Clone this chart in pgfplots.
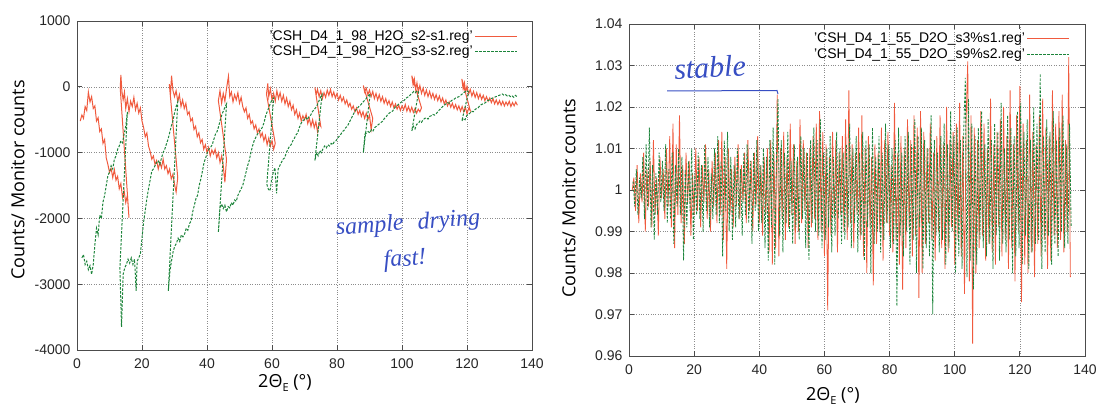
\documentclass[border=0pt]{standalone}
\usepackage{fontspec}
\setmainfont{Liberation Sans}
\newfontfamily\labelfont{Open Sans}
\newfontfamily\handfont{Liberation Serif}
\usepackage{pgfplots}
\pgfplotsset{compat=1.18}
\definecolor{gpred}{RGB}{240,90,62}
\definecolor{gpgreen}{RGB}{28,132,58}
\definecolor{ink}{RGB}{55,78,195}
\begin{document}
\begin{tikzpicture}[x=1pt,y=1pt]
\useasboundingbox (0,0) rectangle (1099,410);
\pgfplotsset{common/.style={
  scale only axis, anchor=south west,
  xmin=0, xmax=140, xtick={0,20,...,140},
  grid=major, major grid style={black!45, dotted, line width=0.6pt},
  axis line style={line width=0.9pt, black!70},
  tick style={black!70, line width=0.8pt}, tick align=inside, major tick length=5pt,
  ticklabel style={font=\fontsize{14}{14}\selectfont, black!85},
  xticklabel style={yshift=-5pt},
  yticklabel style={xshift=-3pt},
  /pgf/number format/assume math mode=true,
  legend cell align=right, legend plot pos=right,
  legend style={draw=none, fill=none, font=\fontsize{14}{14}\selectfont, anchor=north east, inner sep=0pt, row sep=0pt, nodes={inner sep=2pt}},
  label style={font=\labelfont\fontsize{18}{18}\selectfont},
  xlabel={2Θ\raisebox{-0.22em}{\fontsize{11}{11}\selectfont E} (°)},
  ylabel={Counts/ Monitor counts},
}}
\begin{axis}[common,
  at={(77pt,60pt)}, width=455pt, height=329pt,
  ymin=-4000, ymax=1000, ytick={-4000,-3000,-2000,-1000,0,1000},
  yticklabels={-4000,-3000,-2000,-1000,0,1000},
  legend style={at={(rel axis cs:0.969,0.978)}},
  legend image code/.code={\draw[#1] (0pt,0pt) -- (42pt,0pt);},
  xlabel style={at={(axis description cs:0.457,-0.100)}, anchor=center},
  ylabel style={at={(axis description cs:-0.130,0.517)}, anchor=center},
]
\addplot[gpred, line width=1.0pt] coordinates {
(1.0,-520)(1.5,-430)(2.0,-480)(2.5,-300)(3.0,-360)(3.5,-80)(4.0,-230)(4.5,-150)(5.0,-330)(5.5,-290)
(6.0,-520)(6.5,-470)(7.0,-680)(7.5,-640)(8.0,-860)(8.5,-800)(9.0,-1080)(9.5,-1180)(10.0,-1300)(10.5,-1240)
(11.0,-1380)(11.5,-1260)(12.0,-1420)(12.5,-1360)(13.0,-1550)(13.5,-1470)(14.0,-1680)(14.5,-1580)(15.0,-1760)(15.5,-1650)(16.0,-1990)
(13.3,-20)(13.5,180)(13.8,-60)(14.2,-200)(14.6,-80)(15.0,-330)(15.5,-180)(16.0,-380)(16.5,-220)(17.0,-300)(17.5,-160)(18.0,-350)(18.5,-250)
(19.0,-400)(19.5,-320)(20.0,-520)(20.5,-620)(21.0,-760)(21.5,-700)(22.0,-900)(22.5,-980)(23.0,-1100)(23.5,-1050)(24.0,-1180)(24.5,-1120)
(25.0,-1250)(25.5,-1150)(26.0,-1230)(26.5,-1100)(27.0,-1250)(27.5,-1200)(28.0,-1320)(28.5,-1250)(29.0,-1400)(29.5,-1330)(30.0,-1480)(30.5,-1600)(31.0,-1380)
(28.4,40)(28.8,-80)(29.1,170)(29.5,-50)(30.0,-150)(30.5,-60)(31.0,-220)(31.5,-120)(32.0,-300)(32.5,-200)(33.0,-330)(33.5,-250)(34.0,-420)
(34.5,-380)(35.0,-520)(35.5,-480)(36.0,-650)(36.5,-600)(37.0,-760)(37.5,-700)(38.0,-850)(38.5,-800)(39.0,-950)(39.5,-880)(40.0,-1000)
(40.5,-920)(41.0,-1050)(41.5,-960)(42.0,-1020)(42.5,-950)(43.0,-1080)(43.5,-1000)(44.0,-1150)(44.5,-1050)(45.0,-1200)(45.5,-1450)(46.0,-1100)
(43.5,-210)(44.0,-60)(44.5,-250)(45.0,-100)(45.5,-220)(46.0,-30)(46.6,160)(47.0,-150)(47.5,-80)(48.0,-230)(48.5,-120)(49.0,-200)(49.5,-90)
(50.0,-250)(50.5,-160)(51.0,-300)(51.5,-380)(52.0,-320)(52.5,-480)(53.0,-420)(53.5,-560)(54.0,-520)(54.5,-640)(55.0,-580)(55.5,-700)
(56.0,-640)(56.5,-760)(57.0,-700)(57.5,-820)(58.0,-740)(58.5,-880)(59.0,-780)(59.5,-900)(60.0,-820)(60.5,-950)(61.0,-860)
(58.3,-110)(58.7,50)(59.0,-150)(59.5,-30)(60.0,-200)(60.5,-100)(61.0,-220)(61.5,-60)(62.0,-180)(62.5,-90)(63.0,-220)(63.5,-130)(64.0,-260)
(64.5,-170)(65.0,-300)(65.5,-220)(66.0,-350)(66.5,-280)(67.0,-420)(67.5,-350)(68.0,-480)(68.5,-400)(69.0,-520)(69.5,-440)(70.0,-500)
(70.5,-420)(71.0,-560)(71.5,-480)(72.0,-600)(72.5,-500)(73.0,-620)(73.5,-530)(74.0,-680)(74.5,-560)(75.0,-600)
(73.2,-10)(73.6,-120)(74.0,-40)(74.5,-150)(75.0,-60)(75.5,-180)(76.0,-90)(76.5,-160)(77.0,-50)(77.5,-130)(78.0,-40)(78.5,-150)(79.0,-80)
(79.5,-170)(80.0,-100)(80.5,-200)(81.0,-130)(81.5,-220)(82.0,-160)(82.5,-260)(83.0,-200)(83.5,-300)(84.0,-250)(84.5,-340)(85.0,-290)
(85.5,-380)(86.0,-320)(86.5,-420)(87.0,-360)(87.5,-450)(88.0,-380)(88.5,-480)(89.0,-400)(89.5,-500)(90.0,-430)(90.5,-650)(91.0,-480)
(88.1,20)(88.5,-80)(89.0,-20)(89.5,-120)(90.0,-50)(90.5,-150)(91.0,-70)(91.5,-180)(92.0,-100)(92.5,-200)(93.0,-120)(93.5,-220)(94.0,-150)
(94.5,-250)(95.0,-180)(95.5,-270)(96.0,-210)(96.5,-300)(97.0,-230)(97.5,-320)(98.0,-260)(98.5,-340)(99.0,-280)(99.5,-360)(100.0,-290)
(100.5,-350)(101.0,-270)(101.5,-370)(102.0,-300)(102.5,-380)(103.0,-310)(103.5,-390)(104.0,-330)(104.5,-400)(105.0,-340)(105.5,-380)(106.0,-320)
(103.0,170)(103.4,30)(103.8,120)(104.2,-40)(104.6,60)(105.0,-80)(105.5,20)(106.0,-100)(106.5,-20)(107.0,-130)(107.5,-50)(108.0,-150)
(108.5,-70)(109.0,-170)(109.5,-100)(110.0,-190)(110.5,-120)(111.0,-210)(111.5,-140)(112.0,-230)(112.5,-170)(113.0,-260)(113.5,-200)
(114.0,-290)(114.5,-230)(115.0,-310)(115.5,-250)(116.0,-330)(116.5,-270)(117.0,-350)(117.5,-290)(118.0,-370)(118.5,-300)(119.0,-380)
(119.5,-310)(120.0,-410)(120.5,-330)(121.0,-360)
(118.4,120)(118.8,-30)(119.2,60)(119.6,-80)(120.0,10)(120.5,-110)(121.0,-40)(121.5,-140)(122.0,-70)(122.5,-160)(123.0,-90)(123.5,-180)
(124.0,-110)(124.5,-190)(125.0,-130)(125.5,-210)(126.0,-150)(126.5,-220)(127.0,-170)(127.5,-240)(128.0,-180)(128.5,-260)(129.0,-200)
(129.5,-270)(130.0,-210)(130.5,-280)(131.0,-220)(131.5,-290)(132.0,-230)(132.5,-280)(133.0,-220)(133.5,-300)(134.0,-240)(134.5,-290)
(135.0,-230)(135.5,-280)
};
\addlegendentry{'CSH\_D4\_1\_98\_H2O\_s2-s1.reg'}
\addplot[gpgreen, line width=1.0pt, dash pattern=on 2.5pt off 1.5pt] coordinates {
(1.5,-2600)(2.0,-2550)(2.5,-2700)(3.0,-2650)(3.5,-2780)(4.0,-2720)(4.5,-2850)(5.0,-2700)(5.5,-2400)(6.0,-2150)(6.5,-2250)(7.0,-1950)
(7.5,-2000)(8.0,-1750)(8.5,-1650)(9.0,-1500)(9.5,-1350)(10.0,-1300)(10.5,-1200)(11.0,-1250)(11.5,-1100)(12.0,-1050)(12.5,-950)(13.0,-900)
(13.5,-820)(14.0,-850)(14.5,-720)(15.0,-600)(15.5,-380)
(13.2,-2750)(13.7,-3650)(14.2,-2850)(14.7,-2750)(15.2,-2700)(15.7,-2620)(16.2,-2680)(16.7,-2600)(17.2,-2700)(17.7,-2620)(18.2,-3100)
(18.5,-2650)(19.0,-2600)(19.5,-2540)(20.0,-2300)(20.5,-2050)(21.0,-1880)(21.5,-1700)(22.0,-1550)(22.5,-1420)(23.0,-1280)(23.5,-1250)
(24.0,-1200)(24.5,-1150)(25.0,-1120)(25.5,-1180)(26.0,-1080)(26.5,-1000)(27.0,-950)(27.5,-870)(28.0,-800)(28.5,-700)(29.0,-600)
(29.5,-520)(30.0,-400)(30.5,-300)(31.0,-230)
(28.1,-3100)(28.6,-2800)(29.1,-2640)(29.6,-2500)(30.1,-2420)(30.6,-2380)(31.1,-2300)(31.6,-2350)(32.1,-2250)(32.6,-2280)(33.1,-2240)
(33.6,-2150)(34.1,-2180)(34.6,-2080)(35.1,-2040)(35.6,-1900)(36.1,-1800)(36.6,-1700)(37.1,-1650)(37.6,-1500)(38.1,-1400)(38.6,-1280)
(39.1,-1150)(39.6,-1080)(40.1,-1000)(40.6,-950)(41.1,-920)(41.6,-880)(42.1,-800)(42.6,-720)(43.1,-680)(43.6,-600)(44.1,-500)(44.6,-420)
(45.1,-360)(45.6,-300)(46.0,-260)
(43.5,-2210)(44.0,-1850)(44.5,-1780)(45.0,-1850)(45.5,-1800)(46.0,-1900)(46.5,-1820)(47.0,-1840)(47.5,-1760)(48.0,-1800)(48.5,-1720)
(49.0,-1740)(49.5,-1650)(50.0,-1600)(50.5,-1550)(51.0,-1500)(51.5,-1400)(52.0,-1300)(52.5,-1200)(53.0,-1120)(53.5,-1000)(54.0,-900)
(54.5,-820)(55.0,-770)(55.5,-720)(56.0,-700)(56.5,-650)(57.0,-620)(57.5,-550)(58.0,-450)(58.5,-380)(59.0,-320)(59.5,-250)(60.0,-200)(60.5,-170)
(58.4,-1480)(58.9,-1560)(59.4,-1580)(59.9,-1400)(60.4,-1300)(60.9,-1230)(61.4,-1620)(61.9,-1250)(62.4,-1200)(62.9,-1150)(63.4,-1100)
(63.9,-1080)(64.4,-1000)(64.9,-950)(65.4,-900)(65.9,-880)(66.4,-820)(66.9,-780)(67.4,-730)(67.9,-700)(68.4,-620)(68.9,-560)(69.4,-520)
(69.9,-500)(70.4,-470)(70.9,-500)(71.4,-450)(71.9,-430)(72.4,-380)(72.9,-350)(73.4,-320)(73.9,-280)(74.4,-220)(74.9,-160)(75.4,-120)
(73.2,-1120)(73.7,-1000)(74.2,-1050)(74.7,-970)(75.2,-1000)(75.7,-940)(76.2,-900)(76.7,-930)(77.2,-880)(77.7,-900)(78.2,-860)(78.7,-880)
(79.2,-830)(79.7,-820)(80.2,-780)(80.7,-750)(81.2,-720)(81.7,-680)(82.2,-660)(82.7,-620)(83.2,-600)(83.7,-550)(84.2,-500)(84.7,-450)
(85.2,-400)(85.7,-360)(86.2,-330)(86.7,-300)(87.2,-280)(87.7,-250)(88.2,-220)(88.7,-200)(89.2,-160)(89.7,-130)(90.2,-110)
(88.1,-1000)(88.6,-720)(89.1,-700)(89.6,-680)(90.1,-700)(90.6,-650)(91.1,-670)(91.6,-620)(92.1,-600)(92.6,-580)(93.1,-560)(93.6,-540)
(94.1,-520)(94.6,-480)(95.1,-460)(95.6,-420)(96.1,-400)(96.6,-380)(97.1,-370)(97.6,-330)(98.1,-300)(98.6,-280)(99.1,-260)(99.6,-240)
(100.1,-220)(100.6,-210)(101.1,-180)(101.6,-160)(102.1,-150)(102.6,-120)(103.1,-100)(103.6,-70)(104.1,-90)(104.6,-60)(105.1,-80)
(103.0,-670)(103.5,-600)(104.0,-640)(104.5,-570)(105.0,-560)(105.5,-520)(106.0,-540)(106.5,-500)(107.0,-480)(107.5,-470)(108.0,-490)
(108.5,-450)(109.0,-440)(109.5,-420)(110.0,-430)(110.5,-410)(111.0,-380)(111.5,-350)(112.0,-330)(112.5,-300)(113.0,-280)(113.5,-260)
(114.0,-240)(114.5,-250)(115.0,-220)(115.5,-200)(116.0,-190)(116.5,-170)(117.0,-160)(117.5,-150)(118.0,-130)(118.5,-110)(119.0,-90)
(119.5,-70)(120.0,-60)(120.5,-80)
(118.4,-520)(118.9,-480)(119.4,-500)(119.9,-440)(120.4,-420)(120.9,-400)(121.4,-370)(121.9,-380)(122.4,-350)(122.9,-330)(123.4,-320)
(123.9,-290)(124.4,-270)(124.9,-260)(125.4,-250)(125.9,-230)(126.4,-210)(126.9,-200)(127.4,-180)(127.9,-170)(128.4,-160)(128.9,-150)
(129.4,-140)(129.9,-130)(130.4,-120)(130.9,-110)(131.4,-130)(131.9,-120)(132.4,-140)(132.9,-130)(133.4,-150)(133.9,-140)(134.4,-160)
(134.9,-130)(135.4,-150)
};
\addlegendentry{'CSH\_D4\_1\_98\_H2O\_s3-s2.reg'}
\end{axis}
\begin{axis}[common,
  at={(629pt,54pt)}, width=456pt, height=332pt,
  ymin=0.96, ymax=1.04, ytick={0.96,0.97,0.98,0.99,1,1.01,1.02,1.03,1.04},
  yticklabels={0.96,0.97,0.98,0.99,1,1.01,1.02,1.03,1.04},
  legend style={at={(rel axis cs:0.967,0.979)}},
  legend image code/.code={\draw[#1] (0pt,0pt) -- (42pt,0pt);},
  xlabel style={at={(axis description cs:0.447,-0.120)}, anchor=center},
  ylabel style={at={(axis description cs:-0.132,0.476)}, anchor=center},
]
\addplot[gpred, line width=0.8pt] coordinates {
(1.0,1.000)(1.5,1.003)(2.0,0.995)(2.5,1.006)(3.0,0.992)(3.5,1.004)(4.0,0.997)(4.5,1.009)(5.0,0.990)(5.5,1.005)
(6.0,0.996)(6.5,1.007)(7.0,0.991)(7.5,1.012)(8.0,0.994)(8.5,1.003)(9.0,0.989)(9.5,1.008)(10.0,0.998)(10.5,1.005)
(11.0,0.993)(11.5,1.010)(12.0,0.996)(12.5,1.013)(13.0,0.991)(13.5,1.016)(14.0,0.986)(14.5,1.011)(15.0,0.994)(15.5,1.018)
(16.0,0.992)(16.5,1.006)(17.0,0.987)(17.5,1.009)(18.0,0.997)(18.5,1.007)(19.0,0.989)(19.5,1.004)(20.0,0.994)(20.5,1.010)
(21.0,0.995)(21.5,1.008)(22.0,0.991)(22.5,1.006)(23.0,0.997)(23.5,1.011)(24.0,0.993)(24.5,1.005)(25.0,0.990)(25.5,1.007)
(26.0,0.996)(26.5,1.009)(27.0,0.992)(27.5,1.012)(28.0,0.994)(28.5,1.014)(29.0,0.988)(29.5,1.008)(30.0,0.981)(30.5,1.010)
(31.0,0.994)(31.5,1.005)(32.0,0.991)(32.5,1.008)(33.0,0.996)(33.5,1.011)(34.0,0.993)(34.5,1.006)(35.0,0.997)(35.5,1.009)
(36.0,0.992)(36.5,1.012)(37.0,0.995)(37.5,1.007)(38.0,0.990)(38.5,1.009)(39.0,0.996)(39.5,1.013)(40.0,0.992)(40.5,1.006)
(41.0,0.989)(41.5,1.008)(42.0,0.994)(42.5,1.010)(43.0,0.985)(43.5,1.012)(44.0,0.982)(44.5,1.009)(45.0,0.986)(45.5,1.023)
(46.0,0.984)(46.5,1.010)(47.0,0.993)(47.5,1.014)(48.0,0.988)(48.5,1.008)(49.0,0.991)(49.5,1.016)(50.0,0.994)(50.5,1.011)
(51.0,0.987)(51.5,1.007)(52.0,0.990)(52.5,1.017)(53.0,0.992)(53.5,1.012)(54.0,0.995)(54.5,1.009)(55.0,0.986)(55.5,1.010)
(56.0,0.991)(56.5,1.013)(57.0,0.993)(57.5,1.016)(58.0,0.988)(58.5,1.019)(59.0,0.990)(59.5,1.014)(60.0,0.984)(60.5,1.011)
(61.0,0.971)(61.5,1.008)(62.0,0.989)(62.5,1.014)(63.0,0.993)(63.5,1.012)(64.0,0.985)(64.5,1.009)(65.0,0.994)(65.5,1.013)
(66.0,0.990)(66.5,1.017)(67.0,0.988)(67.5,1.024)(68.0,0.992)(68.5,1.011)(69.0,0.986)(69.5,1.009)(70.0,0.994)(70.5,1.015)
(71.0,0.988)(71.5,1.018)(72.0,0.984)(72.5,1.010)(73.0,0.980)(73.5,1.013)(74.0,0.991)(74.5,1.008)(75.0,0.977)(75.5,1.011)
(76.0,0.987)(76.5,1.009)(77.0,0.990)(77.5,1.015)(78.0,0.983)(78.5,1.012)(79.0,0.992)(79.5,1.014)(80.0,0.989)(80.5,1.006)
(81.0,0.985)(81.5,1.021)(82.0,0.988)(82.5,1.009)(83.0,0.982)(83.5,1.013)(84.0,0.976)(84.5,1.010)(85.0,0.986)(85.5,1.017)
(86.0,0.991)(86.5,1.012)(87.0,0.984)(87.5,1.018)(88.0,0.989)(88.5,1.015)(89.0,0.974)(89.5,1.019)(90.0,0.980)(90.5,1.014)
(91.0,0.987)(91.5,1.010)(92.0,0.992)(92.5,1.016)(93.0,0.988)(93.5,1.009)(94.0,0.983)(94.5,1.013)(95.0,0.990)(95.5,1.018)
(96.0,0.986)(96.5,1.011)(97.0,0.981)(97.5,1.020)(98.0,0.985)(98.5,1.012)(99.0,0.991)(99.5,1.014)(100.0,0.982)(100.5,1.016)
(101.0,0.988)(101.5,1.021)(102.0,0.984)(102.5,1.013)(103.0,0.975)(103.5,1.017)(104.0,1.031)(104.5,0.978)(105.0,1.018)(105.5,0.963)
(106.0,1.015)(106.5,0.980)(107.0,1.012)(107.5,0.986)(108.0,1.019)(108.5,0.989)(109.0,1.016)(109.5,0.983)(110.0,1.010)(110.5,0.987)
(111.0,1.022)(111.5,0.985)(112.0,1.011)(112.5,0.982)(113.0,1.014)(113.5,0.991)(114.0,1.017)(114.5,0.984)(115.0,1.020)(115.5,0.988)
(116.0,1.013)(116.5,0.981)(117.0,1.024)(117.5,0.986)(118.0,1.011)(118.5,0.978)(119.0,1.018)(119.5,0.990)(120.0,1.025)(120.5,0.973)
(121.0,1.016)(121.5,0.982)(122.0,1.012)(122.5,0.980)(123.0,1.023)(123.5,0.985)(124.0,1.014)(124.5,0.979)(125.0,1.011)(125.5,0.987)
(126.0,1.018)(126.5,0.984)(127.0,1.022)(127.5,0.988)(128.0,1.015)(128.5,0.981)(129.0,1.013)(129.5,0.983)(130.0,1.024)(130.5,0.989)
(131.0,1.016)(131.5,0.986)(132.0,1.019)(132.5,0.988)(133.0,1.023)(133.5,0.985)(134.0,1.012)(134.5,0.990)(135.0,1.032)(135.5,0.979)
};
\addlegendentry{'CSH\_D4\_1\_55\_D2O\_s3\%s1.reg'}
\addplot[gpgreen, line width=0.8pt, dash pattern=on 2.5pt off 1.5pt] coordinates {
(1.25,1.002)(1.75,0.996)(2.25,1.005)(2.75,0.994)(3.25,1.003)(3.75,0.998)(4.25,1.008)(4.75,0.993)(5.25,1.011)(5.75,0.995)
(6.25,1.015)(6.75,0.991)(7.25,1.006)(7.75,0.988)(8.25,1.004)(8.75,0.994)(9.25,1.009)(9.75,0.997)(10.25,1.007)(10.75,0.995)
(11.25,1.011)(11.75,0.992)(12.25,1.005)(12.75,0.993)(13.25,1.009)(13.75,0.987)(14.25,1.006)(14.75,0.996)(15.25,1.010)(15.75,0.994)
(16.25,1.008)(16.75,0.983)(17.25,1.005)(17.75,0.991)(18.25,1.007)(18.75,0.995)(19.25,1.010)(19.75,0.988)(20.25,1.004)(20.75,0.994)
(21.25,1.009)(21.75,0.993)(22.25,1.006)(22.75,0.990)(23.25,1.011)(23.75,0.995)(24.25,1.008)(24.75,0.991)(25.25,1.004)(25.75,0.993)
(26.25,1.010)(26.75,0.994)(27.25,1.013)(27.75,0.992)(28.25,1.007)(28.75,0.984)(29.25,1.012)(29.75,0.995)(30.25,1.014)(30.75,0.990)
(31.25,1.008)(31.75,0.988)(32.25,1.006)(32.75,0.991)(33.25,1.010)(33.75,0.993)(34.25,1.005)(34.75,0.989)(35.25,1.009)(35.75,0.994)
(36.25,1.011)(36.75,0.992)(37.25,1.007)(37.75,0.987)(38.25,1.009)(38.75,0.995)(39.25,1.012)(39.75,0.990)(40.25,1.006)(40.75,0.992)
(41.25,1.010)(41.75,0.986)(42.25,1.008)(42.75,0.983)(43.25,1.012)(43.75,0.991)(44.25,1.015)(44.75,0.982)(45.25,1.007)(45.75,1.022)
(46.25,0.989)(46.75,1.012)(47.25,0.985)(47.75,1.009)(48.25,0.992)(48.75,1.014)(49.25,0.990)(49.75,1.007)(50.25,0.987)(50.75,1.011)
(51.25,0.991)(51.75,1.008)(52.25,0.988)(52.75,1.013)(53.25,0.993)(53.75,1.010)(54.25,0.986)(54.75,1.009)(55.25,0.983)(55.75,1.012)
(56.25,0.992)(56.75,1.015)(57.25,0.990)(57.75,1.012)(58.25,0.989)(58.75,1.017)(59.25,0.986)(59.75,1.009)(60.25,0.988)(60.75,1.010)
(61.25,0.991)(61.75,1.013)(62.25,0.985)(62.75,1.008)(63.25,0.989)(63.75,1.014)(64.25,0.993)(64.75,1.010)(65.25,0.987)(65.75,1.009)
(66.25,0.988)(66.75,1.011)(67.25,0.991)(67.75,1.016)(68.25,0.986)(68.75,1.010)(69.25,0.992)(69.75,1.013)(70.25,0.985)(70.75,1.009)
(71.25,0.989)(71.75,1.014)(72.25,0.983)(72.75,1.012)(73.25,0.991)(73.75,1.011)(74.25,0.980)(74.75,1.015)(75.25,0.987)(75.75,1.008)
(76.25,0.990)(76.75,1.013)(77.25,0.985)(77.75,1.009)(78.25,0.988)(78.75,1.016)(79.25,0.992)(79.75,1.011)(80.25,0.986)(80.75,1.010)
(81.25,0.987)(81.75,1.012)(82.25,0.972)(82.75,1.015)(83.25,0.989)(83.75,1.009)(84.25,0.984)(84.75,1.013)(85.25,0.990)(85.75,1.014)
(86.25,0.982)(86.75,1.011)(87.25,0.988)(87.75,1.017)(88.25,0.980)(88.75,1.013)(89.25,0.991)(89.75,1.015)(90.25,0.981)(90.75,1.012)
(91.25,0.986)(91.75,1.010)(92.25,0.984)(92.75,1.018)(93.25,0.970)(93.75,1.012)(94.25,0.989)(94.75,1.009)(95.25,0.985)(95.75,1.013)
(96.25,0.988)(96.75,1.016)(97.25,0.982)(97.75,1.011)(98.25,0.986)(98.75,1.019)(99.25,0.990)(99.75,1.013)(100.25,0.980)(100.75,1.015)
(101.25,0.984)(101.75,1.012)(102.25,0.981)(102.75,1.014)(103.25,1.027)(103.75,0.979)(104.25,1.022)(104.75,0.983)(105.25,1.016)(105.75,0.976)
(106.25,1.013)(106.75,0.982)(107.25,1.015)(107.75,0.988)(108.25,1.019)(108.75,0.986)(109.25,1.011)(109.75,0.984)(110.25,1.017)(110.75,0.987)
(111.25,1.012)(111.75,0.981)(112.25,1.016)(112.75,0.989)(113.25,1.014)(113.75,0.983)(114.25,1.021)(114.75,0.987)(115.25,1.010)(115.75,0.985)
(116.25,1.018)(116.75,0.988)(117.25,1.015)(117.75,0.980)(118.25,1.013)(118.75,0.984)(119.25,1.019)(119.75,0.986)(120.25,1.021)(120.75,0.982)
(121.25,1.014)(121.75,0.989)(122.25,1.017)(122.75,0.981)(123.25,1.012)(123.75,0.985)(124.25,1.020)(124.75,0.987)(125.25,1.016)(125.75,0.988)
(126.25,1.028)(126.75,0.981)(127.25,1.013)(127.75,0.985)(128.25,1.017)(128.75,0.989)(129.25,1.014)(129.75,0.982)(130.25,1.019)(130.75,0.987)
(131.25,1.012)(131.75,0.984)(132.25,1.015)(132.75,0.990)(133.25,1.018)(133.75,0.986)(134.25,1.011)(134.75,0.987)(135.25,1.016)(135.75,0.991)
};
\addlegendentry{'CSH\_D4\_1\_55\_D2O\_s9\%s2.reg'}
\end{axis}
% handwritten annotations
\node[ink, font=\handfont\itshape\fontsize{24}{24}\selectfont, rotate=4] at (408,186) {sample\hspace{14pt}drying};
\node[ink, font=\handfont\itshape\fontsize{24}{24}\selectfont, rotate=4] at (405,150) {fast!};
\node[ink, font=\handfont\itshape\fontsize{30}{30}\selectfont, rotate=3] at (710,343) {stable};
\draw[ink, line width=1pt] (667,319) -- (777,319.5) -- (778,316);
\end{tikzpicture}
\end{document}
